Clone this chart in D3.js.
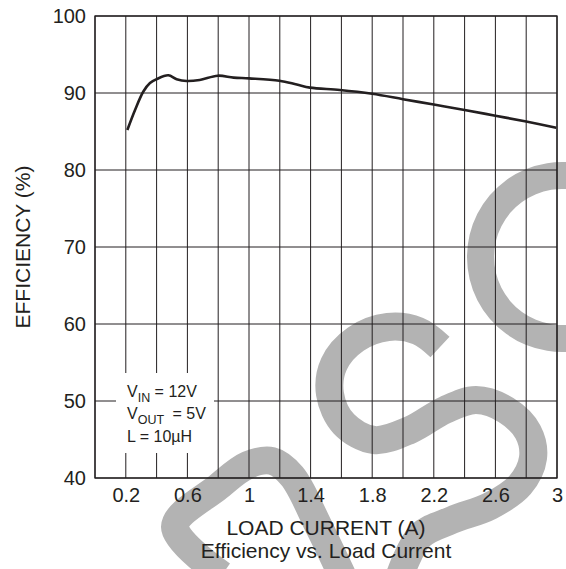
<!DOCTYPE html>
<html><head><meta charset="utf-8">
<script src="https://cdn.jsdelivr.net/npm/d3@7"></script>
<style>
html,body{margin:0;padding:0;background:#fff;}
svg{display:block;font-family:"Liberation Sans",Arial,sans-serif;}
</style></head>
<body>
<svg id="c" width="566" height="569"></svg>
<script>
// ---- data ----
const loadCurrent = [0.21,0.26,0.314,0.357,0.40,0.476,0.53,0.595,0.68,0.797,0.90,1.0,1.197,1.31,1.396,1.59,1.8,2.0,2.2,2.4,2.6,2.8,2.995];
const efficiency  = [85.2,87.8,90.2,91.3,91.8,92.3,91.8,91.56,91.7,92.25,92.0,91.9,91.6,91.1,90.7,90.4,89.9,89.2,88.5,87.8,87.05,86.3,85.5];
const xTickLabels = ["0.2","0.6","1","1.4","1.8","2.2","2.6","3"];
const xTickValues = [0.2,0.6,1,1.4,1.8,2.2,2.6,3];
const yTickValues = [40,50,60,70,80,90,100];
const xGrid = d3.range(0,3.0001,0.2);
const xTitle = "LOAD CURRENT (A)";
const yTitle = "EFFICIENCY (%)";
const caption = "Efficiency vs. Load Current";

const svg = d3.select("#c");
const L=95, R=557, T=16, B=478;
const x = d3.scaleLinear().domain([0,3]).range([L,R]);
const y = d3.scaleLinear().domain([40,100]).range([B,T]);
const ink = "#231f20";
const wm = "#b3b3b3";

// ---- watermark (background) ----
const wmG = svg.append("g");
const lineC = d3.line().curve(d3.curveCatmullRom.alpha(0.5));
// left shape
wmG.append("path")
  .attr("d", lineC([[222,575],[175,527],[218,487],[248,465],[272,461],[292,476],[318,525],[342,575]]))
  .attr("fill","none").attr("stroke",wm).attr("stroke-width",28);
// S
wmG.append("path")
  .attr("d", lineC([[440,347],[418,331],[388,327],[356,339],[334,364],[330,394],[344,424],[374,440],[410,430],[445,410],[476,400],[506,410],[528,432],[533,458],[520,485],[490,506],[452,520],[420,536],[400,575]]))
  .attr("fill","none").attr("stroke",wm).attr("stroke-width",28);
// C at right
wmG.append("path")
  .attr("transform","translate(562,257)")
  .attr("d", d3.arc().innerRadius(68).outerRadius(95).startAngle(Math.PI*0.9).endAngle(Math.PI*2.1)())
  .attr("fill",wm);

// ---- grid ----
const g = svg.append("g");
g.selectAll(".vg").data(xGrid).join("line")
  .attr("x1",d=>x(d)).attr("x2",d=>x(d)).attr("y1",T).attr("y2",B)
  .attr("stroke",ink).attr("stroke-width",1);
g.selectAll(".hg").data(yTickValues).join("line")
  .attr("x1",L).attr("x2",R).attr("y1",d=>y(d)).attr("y2",d=>y(d))
  .attr("stroke",ink).attr("stroke-width",1);
g.append("rect").attr("x",L).attr("y",T).attr("width",R-L).attr("height",B-T)
  .attr("fill","none").attr("stroke",ink).attr("stroke-width",1.3);

// ---- axes (labels only) ----
const xAxis = d3.axisBottom(x).tickValues(xTickValues).tickSize(0).tickPadding(10)
  .tickFormat((d,i)=>xTickLabels[i]);
const xa = svg.append("g").attr("transform",`translate(0,${B})`).call(xAxis);
xa.select(".domain").remove();
xa.selectAll("text").attr("font-size",20).attr("font-family","Liberation Sans, Arial, sans-serif").attr("fill",ink);

const yAxis = d3.axisLeft(y).tickValues(yTickValues).tickSize(0).tickPadding(9);
const ya = svg.append("g").attr("transform",`translate(${L},0)`).call(yAxis);
ya.select(".domain").remove();
ya.selectAll("text").attr("font-size",20).attr("font-family","Liberation Sans, Arial, sans-serif").attr("fill",ink);

// ---- curve ----
const pts = loadCurrent.map((v,i)=>[x(v),y(efficiency[i])]);
svg.append("path").attr("d", d3.line().curve(d3.curveCatmullRom.alpha(0.5))(pts))
  .attr("fill","none").attr("stroke",ink).attr("stroke-width",2.6)
  .attr("stroke-linejoin","round");

// ---- inset annotation ----
svg.append("rect").attr("x",116).attr("y",373).attr("width",98).attr("height",80).attr("fill","#fff");
const ann = svg.append("g").attr("font-size",16).attr("fill",ink);
const t1 = ann.append("text").attr("x",127).attr("y",397);
t1.append("tspan").text("V");
t1.append("tspan").attr("font-size",12.5).attr("dy",5).text("IN");
t1.append("tspan").attr("dy",-5).text(" = 12V");
const t2 = ann.append("text").attr("x",127).attr("y",419);
t2.append("tspan").text("V");
t2.append("tspan").attr("font-size",12.5).attr("dy",5).text("OUT");
t2.append("tspan").attr("dy",-5).attr("dx",4).text(" = 5V");
ann.append("text").attr("x",127).attr("y",442).text("L = 10\u00b5H");

// ---- titles ----
svg.append("text").attr("x",(L+R)/2).attr("y",535).attr("text-anchor","middle")
  .attr("font-size",21).attr("fill",ink).text(xTitle);
svg.append("text").attr("x",(L+R)/2).attr("y",558).attr("text-anchor","middle")
  .attr("font-size",21).attr("fill",ink).text(caption);
svg.append("text").attr("transform",`translate(30,${(T+B)/2}) rotate(-90)`).attr("text-anchor","middle")
  .attr("font-size",21).attr("fill",ink).text(yTitle);
</script>
</body></html>
